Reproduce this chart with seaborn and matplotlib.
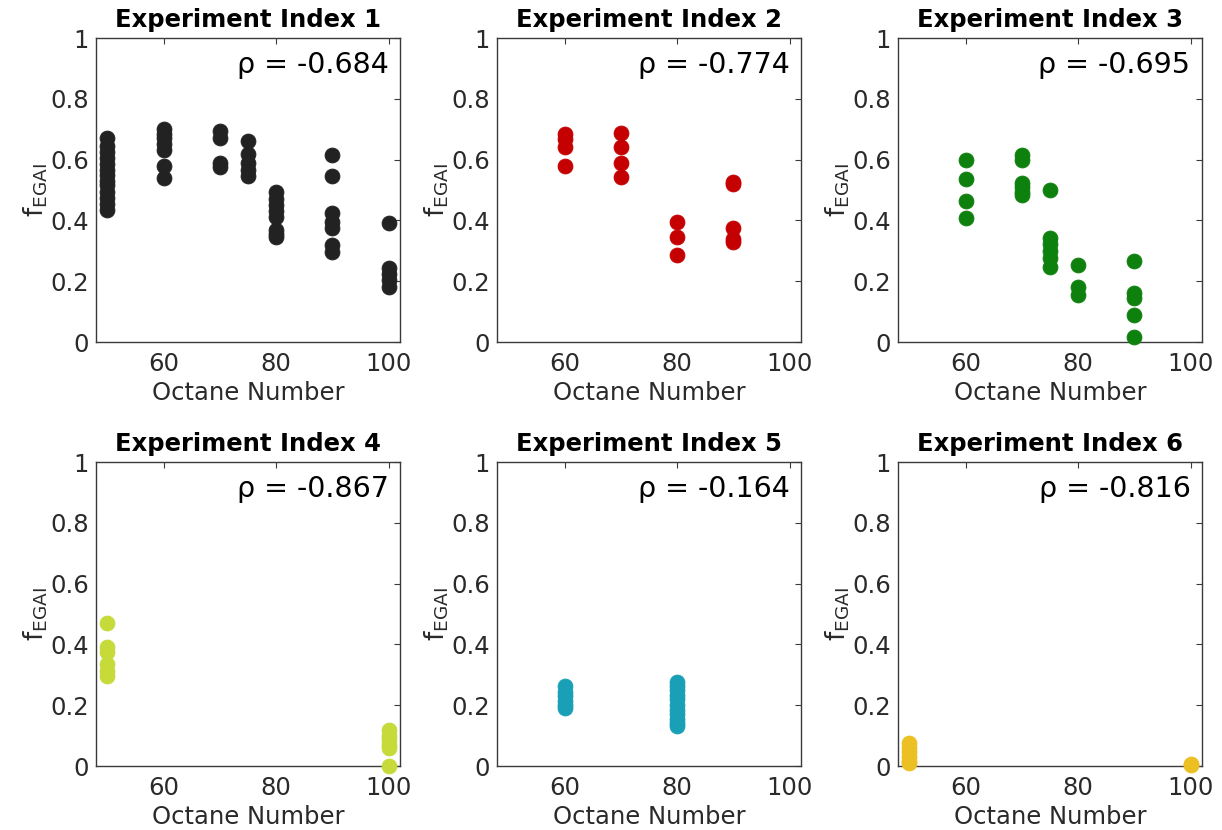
import numpy as np
import pandas as pd
import matplotlib
matplotlib.use("Agg")
import matplotlib.pyplot as plt
import seaborn as sns

# ---- data ----
titles = ["Experiment Index 1", "Experiment Index 2", "Experiment Index 3",
          "Experiment Index 4", "Experiment Index 5", "Experiment Index 6"]
rhos = ["-0.684", "-0.774", "-0.695", "-0.867", "-0.164", "-0.816"]
colors = ["#222222", "#c40000", "#0e800e", "#c6da3a", "#1aa0b6", "#ecbf22"]

x1 = [50]*13 + [60]*7 + [70]*4 + [75]*5 + [80]*8 + [90]*7 + [100]*5
y1 = [0.67, 0.645, 0.625, 0.605, 0.585, 0.565, 0.55, 0.53, 0.515, 0.495, 0.475, 0.455, 0.435,
      0.70, 0.685, 0.67, 0.65, 0.63, 0.58, 0.54,
      0.695, 0.67, 0.59, 0.575,
      0.66, 0.62, 0.59, 0.565, 0.545,
      0.495, 0.47, 0.45, 0.43, 0.41, 0.37, 0.355, 0.345,
      0.615, 0.545, 0.425, 0.395, 0.375, 0.32, 0.297,
      0.39, 0.245, 0.225, 0.205, 0.18]

x2 = [60]*4 + [70]*4 + [80]*3 + [90]*5
y2 = [0.685, 0.668, 0.643, 0.58,
      0.686, 0.642, 0.589, 0.543,
      0.395, 0.347, 0.287,
      0.527, 0.519, 0.375, 0.34, 0.328]

x3 = [60]*4 + [70]*6 + [75]*6 + [80]*3 + [90]*5
y3 = [0.60, 0.537, 0.463, 0.407,
      0.614, 0.598, 0.524, 0.511, 0.495, 0.482,
      0.50, 0.341, 0.321, 0.299, 0.277, 0.246,
      0.253, 0.181, 0.154,
      0.268, 0.162, 0.145, 0.09, 0.016]

x4 = [50]*6 + [100]*6
y4 = [0.47, 0.391, 0.375, 0.337, 0.313, 0.297,
      0.12, 0.10, 0.085, 0.07, 0.06, 0.0]

x5 = [60]*6 + [80]*11
y5 = [0.262, 0.245, 0.23, 0.215, 0.20, 0.19,
      0.275, 0.263, 0.25, 0.235, 0.22, 0.20, 0.185, 0.17, 0.155, 0.14, 0.13]

x6 = [50]*6 + [100]*2
y6 = [0.075, 0.06, 0.045, 0.03, 0.017, 0.01,
      0.008, 0.003]

xs = [x1, x2, x3, x4, x5, x6]
ys = [y1, y2, y3, y4, y5, y6]

xticks = [60, 80, 100]
yticks = [0, 0.2, 0.4, 0.6, 0.8, 1]
yticklabels = ["0", "0.2", "0.4", "0.6", "0.8", "1"]

# ---- style ----
sns.set_style("white")
plt.rcParams['font.family'] = ['DejaVu Sans']
plt.rcParams['mathtext.fontset'] = 'custom'
plt.rcParams['mathtext.rm'] = 'DejaVu Sans'
plt.rcParams['mathtext.it'] = 'DejaVu Sans'

W, H = 1222, 830
fig = plt.figure(figsize=(W/100, H/100), dpi=100)

lefts = [96, 497, 898]
tops = [38, 462]
aw, ah = 304, 304

axis_col = "#3a3a3a"
text_col = "#2a2a2a"

for i in range(6):
    r, c = divmod(i, 3)
    l = lefts[c]
    t = tops[r]
    ax = fig.add_axes([l / W, 1 - (t + ah) / H, aw / W, ah / H])
    df = pd.DataFrame({"x": xs[i], "y": ys[i]})
    sns.scatterplot(data=df, x="x", y="y", ax=ax, color=colors[i], s=115,
                    edgecolor=colors[i], linewidth=0.6, alpha=1.0, zorder=3,
                    clip_on=False)
    ax.set_xlim(48, 102)
    ax.set_ylim(0, 1)
    ax.set_xticks(xticks)
    ax.set_xticklabels([str(v) for v in xticks])
    ax.set_yticks(yticks)
    ax.set_yticklabels(yticklabels)
    ax.tick_params(axis="both", direction="in", length=4, width=0.8, colors=axis_col,
                   labelcolor=text_col, labelsize=17.5, top=True, right=True)
    ax.tick_params(axis="x", pad=7)
    ax.tick_params(axis="y", pad=5)
    for sp in ax.spines.values():
        sp.set_visible(True)
        sp.set_color(axis_col)
        sp.set_linewidth(1.0)
    ax.set_xlabel("Octane Number", fontsize=17.5, color=text_col, labelpad=4)
    ax.set_ylabel(r"$\mathrm{f}_{\mathrm{EGAI}}$", fontsize=19, color=text_col,
                  labelpad=0)
    ax.set_title(titles[i], fontsize=17.5, fontweight="bold", color="black", pad=8)
    ax.text(0.962, 0.91, "\u03c1 = " + rhos[i], transform=ax.transAxes,
            ha="right", va="center", fontsize=20.5, color="black")

fig.savefig("out.png", dpi=100, facecolor="white")
